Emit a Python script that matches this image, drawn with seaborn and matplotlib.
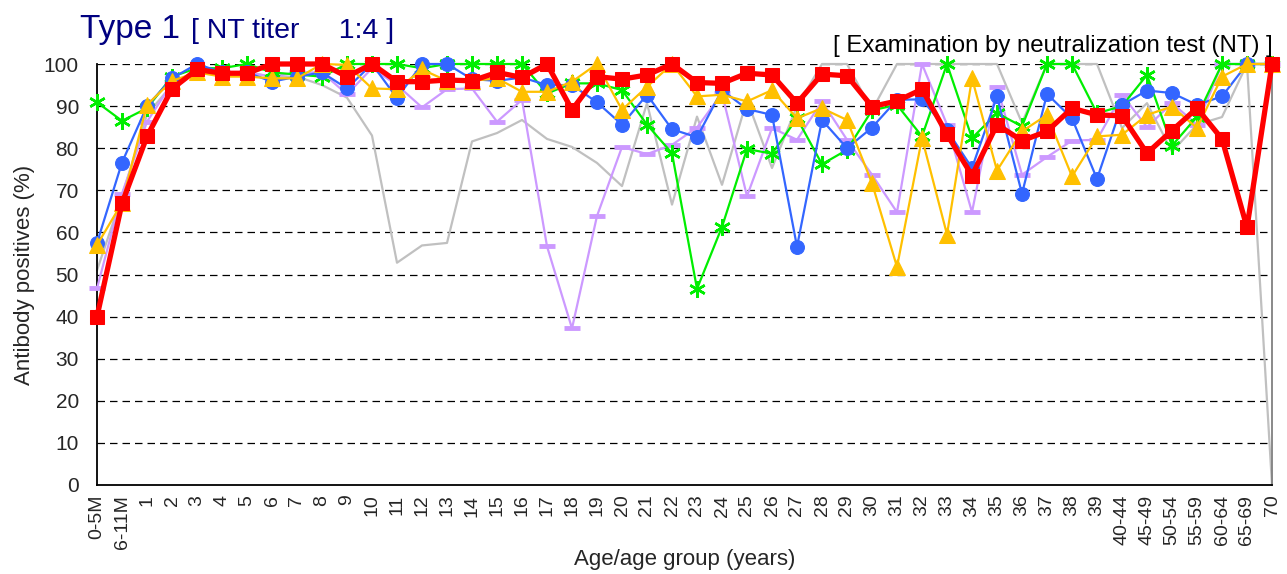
import pandas as pd
import matplotlib
matplotlib.use("Agg")
import matplotlib.pyplot as plt
import seaborn as sns

# Grupos de edad (eje x)
edades = ['0-5M', '6-11M'] + [str(n) for n in range(1, 40)] + \
    ['40-44', '45-49', '50-54', '55-59', '60-64', '65-69', '70']

# Porcentaje de positivos por serie
gris = [51, 68.6, 88, 95, 98, 98, 98, 97, 97, 95, 92, 83, 52.8, 56.9, 57.5, 81.6,
        83.6, 86.7, 82.2, 80.3, 76.5, 71, 90.7, 66.6, 87.5, 71.3, 91.5, 75.3, 90, 100,
        100, 89, 100, 100, 100, 100, 100, 86, 100, 100, 100, 84.8, 90.7, 79.2, 85.6,
        87.4, 100, 0]
lavanda = [46.7, 69.2, 86.3, 95.4, 98, 98, 98, 97, 98, 98, 92.8, 99, 95, 89.7, 94,
           94.2, 86.3, 91.5, 56.7, 37.2, 63.9, 80.3, 78.6, 80.8, 84.9, 93, 68.6, 84.8,
           82, 91.1, 82, 73.7, 64.8, 100, 85.6, 64.8, 94.6, 73.7, 77.9, 81.8, 82, 92.7,
           85, 90.7, 85.6, 100, 100, 100]
verde = [90.9, 86.5, 89.5, 97, 99, 99, 100, 98, 97.5, 97, 100, 100, 100, 99, 100, 100,
         100, 100, 93, 95.4, 95.4, 93.8, 85.6, 78.8, 46.6, 61.3, 79.8, 78.7, 87.1, 76.2,
         79.6, 89, 90.3, 82.8, 100, 82.4, 88.3, 85.2, 100, 100, 88.3, 90, 97.4, 80.6,
         87.5, 100, 100, 100]
azul = [57.5, 76.6, 90, 96.6, 100, 98, 98, 95.8, 97, 98, 94.2, 100, 91.9, 100, 100,
        96.4, 96, 96.8, 95, 95, 90.9, 85.6, 92.7, 84.5, 82.6, 93.8, 89.3, 87.9, 56.6,
        86.7, 80, 84.9, 91.5, 91.6, 84.3, 75.3, 92.3, 69.2, 92.9, 87.1, 72.7, 90.3,
        93.7, 93.1, 90.3, 92.3, 100, 100]
amarillo = [57, 67, 90.3, 96, 98, 97, 97, 96.6, 96.6, 100, 99.8, 94.2, 94, 98.7, 96, 96,
            96.6, 93.4, 93.4, 95.8, 100, 89.1, 94.6, 100, 92.3, 92.7, 91.1, 93.8, 87.1,
            89.5, 86.7, 71.7, 51.8, 82.4, 59.5, 96.6, 74.7, 84, 87.9, 73.3, 82.8, 83.2,
            87.9, 89.9, 84.8, 97, 100, 100]
rojo = [40, 66.9, 82.8, 94.1, 98.7, 97.8, 97.8, 100, 100, 100, 97, 100, 95.8, 95.8, 96.2,
        96, 98, 96.8, 100, 89.1, 97, 96.4, 97.4, 100, 95.6, 95.4, 97.8, 97.4, 90.7, 97.6,
        97.2, 89.9, 91.2, 94, 83.3, 73.5, 85.6, 81.8, 84, 89.5, 87.9, 87.7, 78.8, 84.2,
        89.5, 82.2, 61.2, 100]

series = {'gris': gris, 'lavanda': lavanda, 'verde': verde,
          'azul': azul, 'amarillo': amarillo, 'rojo': rojo}

filas = []
for nombre, valores in series.items():
    for i, v in enumerate(valores):
        filas.append({'serie': nombre, 'pos': i, 'valor': v})
df = pd.DataFrame(filas)

estilos = {
    'gris': dict(color='#C0C0C0', linewidth=1.6, marker=None),
    'lavanda': dict(color='#CC99FF', linewidth=1.6, marker='_', markersize=11,
                    markeredgewidth=3.5),
    'verde': dict(color='#00EE00', linewidth=1.6, marker=(6, 2, 0), markersize=12,
                  markeredgewidth=1.8),
    'azul': dict(color='#3366FF', linewidth=1.6, marker='o', markersize=10),
    'amarillo': dict(color='#FFC000', linewidth=1.6, marker='^', markersize=11),
    'rojo': dict(color='#FF0000', linewidth=3.8, marker='s', markersize=10.5),
}

sns.set_style("white")
plt.rcParams['font.family'] = ['Liberation Sans', 'DejaVu Sans']

fig = plt.figure(figsize=(12.87, 5.74), dpi=100)
ax = fig.add_axes([97 / 1287, 1 - 485 / 574, (1272 - 97) / 1287, (485 - 64) / 574])

for z, nombre in enumerate(series):
    sub = df[df['serie'] == nombre]
    sns.lineplot(data=sub, x='pos', y='valor', ax=ax, sort=False, zorder=2 + z,
                 clip_on=False, markeredgecolor=estilos[nombre]['color'],
                 **estilos[nombre])

ax.set_xlim(0, len(edades) - 1)
ax.set_ylim(0, 100)
ax.set_yticks(range(0, 101, 10))
ax.set_xticks(range(len(edades)))
ax.set_xticklabels(edades, rotation=90, fontsize=14)
ax.tick_params(axis='y', labelsize=15, direction='in', length=4, color='black', pad=13)
ax.tick_params(axis='x', length=0, pad=7)

for yv in range(10, 101, 10):
    ax.axhline(yv, color='black', linewidth=0.9, linestyle=(0, (6, 4)), zorder=1)

for lado in ['left', 'bottom']:
    ax.spines[lado].set_color('black')
    ax.spines[lado].set_linewidth(1.3)
ax.spines['top'].set_visible(False)
ax.spines['right'].set_color('#808080')
ax.spines['right'].set_linewidth(1.3)

ax.set_xlabel('Age/age group (years)', fontsize=16, labelpad=0)
ax.set_ylabel('Antibody positives (%)', fontsize=16, labelpad=6)

fig.text(80 / 1287, 1 - 38 / 574, 'Type 1', fontsize=24, color='#000080')
fig.text(191 / 1287, 1 - 38 / 574, '[ NT titer     1:4 ]', fontsize=20.5, color='#000080')
fig.text(1273 / 1287, 1 - 52 / 574, '[ Examination by neutralization test (NT) ]',
         fontsize=17.3, color='black', ha='right')

fig.savefig('out.png', dpi=100)
